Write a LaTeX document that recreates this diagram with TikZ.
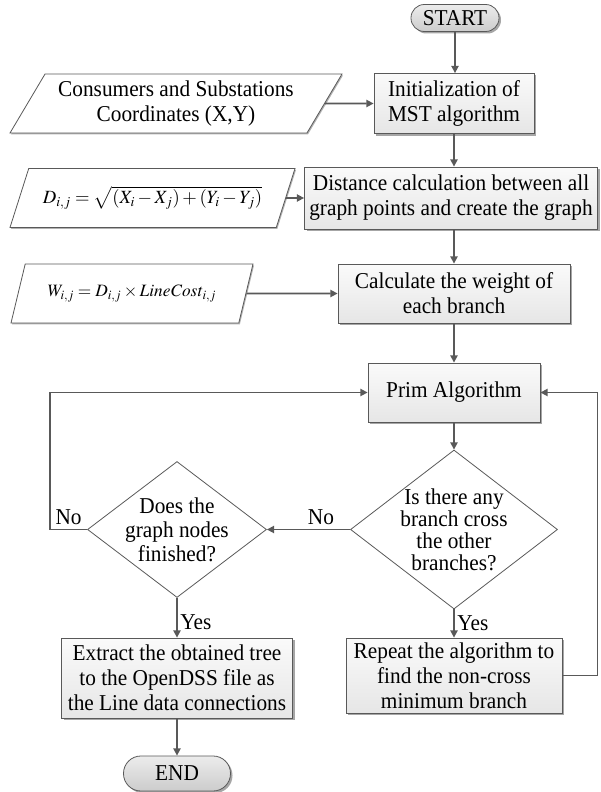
\documentclass[tikz,border=0pt]{standalone}
\usepackage{mathptmx}
\usepackage[no-math]{fontspec}
\setmainfont{Liberation Serif}[FakeStretch=0.94]
\usetikzlibrary{shapes.geometric,arrows.meta,shadows}
\begin{document}
\begin{tikzpicture}[x=0.75pt,y=-0.75pt]
	\definecolor{vien}{RGB}{89,89,89}
	\definecolor{nentren}{RGB}{250,250,250}
	\definecolor{nenduoi}{RGB}{230,230,230}
	\definecolor{xamtren}{RGB}{236,236,236}
	\definecolor{xamduoi}{RGB}{204,204,204}
	\tikzset{
		chu/.style={font=\fontsize{17}{18.75}\selectfont, align=center, text=black},
		hop/.style={chu, rectangle, draw=vien, line width=0.6pt, top color=nentren, bottom color=nenduoi, drop shadow={shadow xshift=1.5pt, shadow yshift=-1.5pt, fill=black!35, opacity=1}, inner sep=1pt},
		dau/.style={hop, rounded corners=10pt, top color=xamtren, bottom color=xamduoi},
		vao/.style={chu, trapezium, trapezium left angle=54, trapezium right angle=126, trapezium stretches body=true, draw=vien, line width=0.6pt, fill=white, minimum height=44.25pt, inner sep=1pt, drop shadow={shadow xshift=0.8pt, shadow yshift=-1pt, fill=black!30, opacity=1}},
		hoi/.style={diamond, draw=vien, line width=0.6pt, fill=white, inner sep=0pt},
		mui/.style={draw=vien, line width=1.2pt, -{Triangle[length=5.5pt,width=5.5pt]}}
	}
	\useasboundingbox (0,0) rectangle (600,792);
	
	%Cot chinh
	\node[dau, minimum width=66pt, minimum height=20.25pt] (start) at (455,18) {START};
	\node[hop, minimum width=120pt, minimum height=45pt] (init) at (454,103.5) {Initialization of\\MST algorithm};
	\node[hop, minimum width=219.75pt, minimum height=46.5pt] (dist) at (451,198) {Distance calculation between all\\graph points and create the graph};
	\node[hop, minimum width=174pt, minimum height=44.25pt] (calc) at (454,293.5) {Calculate the weight of\\each branch};
	\node[hop, minimum width=129pt, minimum height=44.25pt] (prim) at (454,392.5) {Prim Algorithm};
	\node[hoi, minimum width=155.25pt, minimum height=119.25pt, label={[chu, font=\fontsize{17}{16.5}\selectfont]center:Is there any\\branch cross\\the other\\branches?}] (cross) at (454,529.5) {};
	\node[hop, minimum width=162pt, minimum height=56.25pt] (repeat) at (454,675.5) {Repeat the algorithm to\\find the non-cross\\minimum branch};
	
	%Cot trai
	\node[vao, minimum width=249pt] (cons) at (176,103.5) {Consumers and Substations\\Coordinates (X,Y)};
	\node[vao, minimum width=213.75pt] (dpar) at (152.5,198) {\fontsize{14}{16}\selectfont$D_{i,j}=\sqrt{(X_i-X_j)+(Y_i-Y_j)}$};
	\node[vao, minimum width=181.5pt] (wpar) at (132,293.5) {\fontsize{13}{16}\selectfont$W_{i,j}=D_{i,j}\times \mathit{LineCost}_{i,j}$};
	\node[hoi, minimum width=134.25pt, minimum height=102pt, label={[chu, font=\fontsize{17}{18}\selectfont]center:Does the\\graph nodes\\finished?}] (fin) at (177,529.5) {};
	\node[hop, minimum width=173.25pt, minimum height=60pt] (extract) at (177,678) {Extract the obtained tree\\to the OpenDSS file as\\the Line data connections};
	\node[dau, minimum width=80.25pt, minimum height=26.25pt, rounded corners=13pt] (end) at (177,773.5) {END};
	
	%Mui ten
	\draw[mui] (start) -- (start |- init.north);
	\draw[mui] (cons) -- (init);
	\draw[mui] (init) -- (init |- dist.north);
	\draw[mui] (dpar) -- (dist);
	\draw[mui] (init |- dist.south) -- (calc);
	\draw[mui] (wpar) -- (calc);
	\draw[mui] (calc) -- (prim);
	\draw[mui] (prim) -- (cross);
	\draw[mui] (cross.west) -- node[chu, above, pos=0.35] {No} (fin.east);
	\draw[mui] (cross.south) -- node[chu, right, inner sep=2pt] {Yes} (repeat.north);
	\draw[mui] (repeat.east) -- ++(35,0) |- (prim.east);
	\draw[mui] (fin.west) -- node[chu, above] {No} ++(-37,0) |- (prim.west);
	\draw[mui] (fin.south) -- node[chu, right, inner sep=2pt, pos=0.62] {Yes} (extract.north);
	\draw[mui] (extract) -- (end);
\end{tikzpicture}
\end{document}
